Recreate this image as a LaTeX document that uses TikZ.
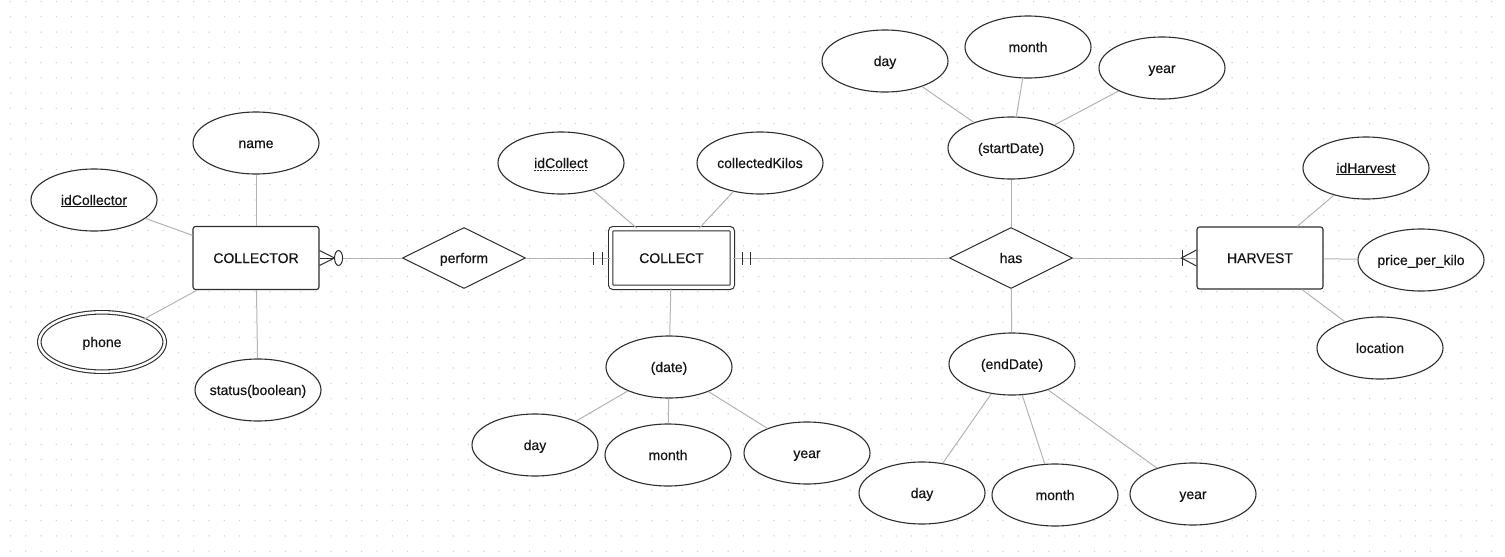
\documentclass[tikz,border=0pt]{standalone}
\usepackage{fontspec}
\setmainfont{Liberation Sans}
\newfontfamily\lblfont{Liberation Sans}[FakeBold=0.35]
\usetikzlibrary{shapes.geometric}
\definecolor{edgec}{HTML}{2E2E2E}
\definecolor{linec}{HTML}{B4B4B4}
\definecolor{dotc}{HTML}{D0D0D0}
\definecolor{txtc}{HTML}{141414}
\tikzset{
  lbl/.style={font=\lblfont\fontsize{14}{16}\selectfont, text=txtc, text height=10pt, text depth=0pt},
  attr/.style={lbl, ellipse, draw=edgec, fill=white, line width=1.1pt,
    minimum width=126pt, minimum height=62pt, inner sep=0pt},
  ent/.style={lbl, rectangle, rounded corners=2.5pt, draw=edgec, fill=white,
    line width=1.1pt, minimum width=126pt, minimum height=63pt, inner sep=0pt},
  rel/.style={lbl, diamond, aspect=2, draw=edgec, fill=white, line width=1pt,
    minimum width=123pt, minimum height=61pt, inner sep=0pt},
  conn/.style={draw=linec, line width=1pt},
  cardmark/.style={draw=edgec, line width=1pt},
}
\begin{document}
\begin{tikzpicture}[x=1pt, y=-1pt]
\useasboundingbox (0,0) rectangle (1505,557);
\fill[white] (0,0) rectangle (1505,557);
\foreach \i in {0,...,98} {
  \foreach \j in {0,...,36} {
    \fill[dotc] ({10.5+15.27*\i},{1.5+15.27*\j}) circle (0.75);
  }
}

% entities and relationships
\node[ent] (collector) at (256,258) {COLLECTOR};
\node[ent, double=white, double distance=3.2pt, minimum width=121.6pt, minimum height=58.6pt] (collect) at (671.5,258) {COLLECT};
\node[ent, minimum height=62pt] (harvest) at (1260,258) {HARVEST};
\node[rel] (perform) at (464,258) {perform};
\node[rel] (has) at (1011,258) {has};

% COLLECTOR attributes
\node[attr] (name) at (256,143) {name};
\node[attr] (idcollector) at (94,200) {\underline{idCollector}};
\node[attr, double=white, double distance=2.4pt, minimum width=125.4pt, minimum height=59.4pt] (phone) at (102,342) {phone};
\node[attr, inner xsep=-5pt] (status) at (258,390) {status(boolean)};

% COLLECT attributes
\node[attr] (idcollect) at (561,163) {};
\node[lbl, inner sep=0pt] (idcollecttxt) at (idcollect.center) {idCollect};
\draw[edgec, line width=0.8pt, dash pattern=on 2pt off 1.2pt] ([yshift=-2.5pt]idcollecttxt.base west) -- ([yshift=-2.5pt]idcollecttxt.base east);
\node[attr] (kilos) at (760,163) {collectedKilos};
\node[attr] (date) at (669,367) {(date)};
\node[attr] (dday) at (535,445) {day};
\node[attr] (dmonth) at (668,455) {month};
\node[attr] (dyear) at (807,453) {year};

% has attributes
\node[attr] (start) at (1011,148) {(startDate)};
\node[attr] (sday) at (885,61) {day};
\node[attr] (smonth) at (1028,47) {month};
\node[attr] (syear) at (1162,68) {year};
\node[attr] (end) at (1012,364) {(endDate)};
\node[attr] (eday) at (922,493) {day};
\node[attr] (emonth) at (1055,495) {month};
\node[attr] (eyear) at (1193,494) {year};

% HARVEST attributes
\node[attr] (idharvest) at (1366,168) {\underline{idHarvest}};
\node[attr] (price) at (1421,260) {price\_per\_kilo};
\node[attr] (location) at (1380,348) {location};

% connectors
\draw[conn] (collector) -- (perform);
\draw[conn] (perform) -- (collect);
\draw[conn] (collect) -- (has);
\draw[conn] (has) -- (harvest);
\draw[conn] (name) -- (collector);
\draw[conn] (idcollector) -- (collector);
\draw[conn] (phone) -- (collector);
\draw[conn] (status) -- (collector);
\draw[conn] (idcollect) -- (collect);
\draw[conn] (kilos) -- (collect);
\draw[conn] (date) -- (collect);
\draw[conn] (date) -- (dday);
\draw[conn] (date) -- (dmonth);
\draw[conn] (date) -- (dyear);
\draw[conn] (start) -- (has);
\draw[conn] (start) -- (sday);
\draw[conn] (start) -- (smonth);
\draw[conn] (start) -- (syear);
\draw[conn] (end) -- (has);
\draw[conn] (end) -- (eday);
\draw[conn] (end) -- (emonth);
\draw[conn] (end) -- (eyear);
\draw[conn] (idharvest) -- (harvest);
\draw[conn] (price) -- (harvest);
\draw[conn] (location) -- (harvest);

% cardinality marks
% COLLECTOR: zero or many
\draw[cardmark] ([shift={(0,-7.5)}]collector.east) -- ([shift={(15,0)}]collector.east) -- ([shift={(0,7.5)}]collector.east);
\draw[cardmark] (collector.east) -- ([shift={(15,0)}]collector.east);
\draw[cardmark, fill=white] ([shift={(19,0)}]collector.east) ellipse (4 and 7.5);
% COLLECT: one and only one on both sides
\draw[cardmark] (593,251.5) -- (593,264.5);
\draw[cardmark] (602,251.5) -- (602,264.5);
\draw[cardmark] (742,251.5) -- (742,264.5);
\draw[cardmark] (750,251.5) -- (750,264.5);
% HARVEST: one or many
\draw[cardmark] (1182,250) -- (1182,266);
\draw[cardmark] ([shift={(0,-8)}]harvest.west) -- ([shift={(-15,0)}]harvest.west) -- ([shift={(0,8)}]harvest.west);
\end{tikzpicture}
\end{document}
